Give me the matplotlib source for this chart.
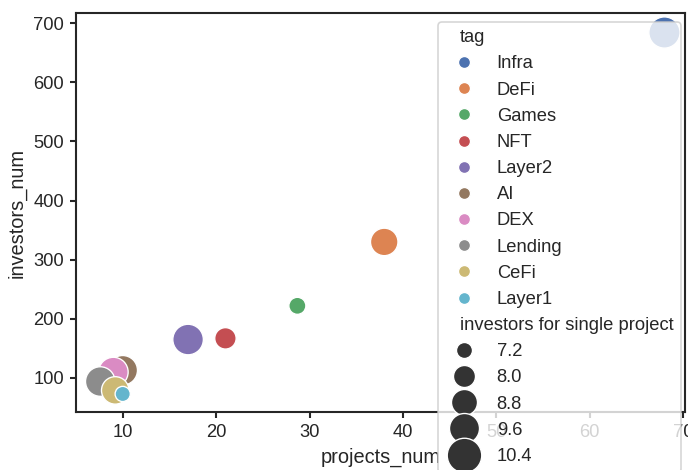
import matplotlib
matplotlib.use("Agg")
import matplotlib.pyplot as plt
import seaborn as sns
import pandas as pd

tags = ["Infra", "DeFi", "Games", "NFT", "Layer2", "AI", "DEX", "Lending", "CeFi", "Layer1"]
projects_num = [68, 38, 28.7, 21, 17, 10, 9, 7.6, 9.2, 10]
investors_num = [684, 330, 222, 167, 165, 113, 110, 94, 79, 73]
investors_per_project = [10.9, 9.8, 7.45, 8.3, 10.7, 10.4, 10.4, 10.4, 9.8, 7.15]

df = pd.DataFrame({
    "tag": tags,
    "projects_num": projects_num,
    "investors_num": investors_num,
    "investors for single project": investors_per_project,
})

sns.set_theme(style="ticks", context="notebook")
plt.rcParams["font.family"] = ["Liberation Sans", "DejaVu Sans"]
plt.rcParams["xtick.major.size"] = 3.6
plt.rcParams["ytick.major.size"] = 3.6

DPI = 120
fig = plt.figure(figsize=(688 / DPI, 470 / DPI), dpi=DPI)
ax = fig.add_axes([76 / 688, 1 - 412 / 470, 609 / 688, 399 / 470])
sns.scatterplot(data=df, x="projects_num", y="investors_num", hue="tag",
                size="investors for single project", sizes=(83, 350), ax=ax)
ax.set_xlim(5.0, 70.2)
ax.set_ylim(42.5, 717)

handles, labels = ax.get_legend_handles_labels()
leg = ax.legend(handles, labels, loc="upper right", fontsize=11,
                bbox_to_anchor=(681 / 688, 1 - 22 / 470),
                bbox_transform=fig.transFigure, borderaxespad=0)

subtitles = {"tag", "investors for single project"}
for column in leg._legend_handle_box.get_children():
    for hpack in column.get_children():
        draw_area, text_area = hpack.get_children()
        txt = text_area.get_children()[0].get_text()
        if txt in subtitles:
            draw_area.set_width(0)

size_ms = {"7.2": 9.6, "8.0": 13.2, "8.8": 15.6, "9.6": 18.0, "10.4": 20.7}
for h, t in zip(leg.legend_handles, leg.get_texts()):
    lab = t.get_text()
    if lab in size_ms:
        h.set_markersize(size_ms[lab])
    elif lab in tags:
        h.set_markersize(7.2)

fig.savefig("out.png", dpi=DPI)
